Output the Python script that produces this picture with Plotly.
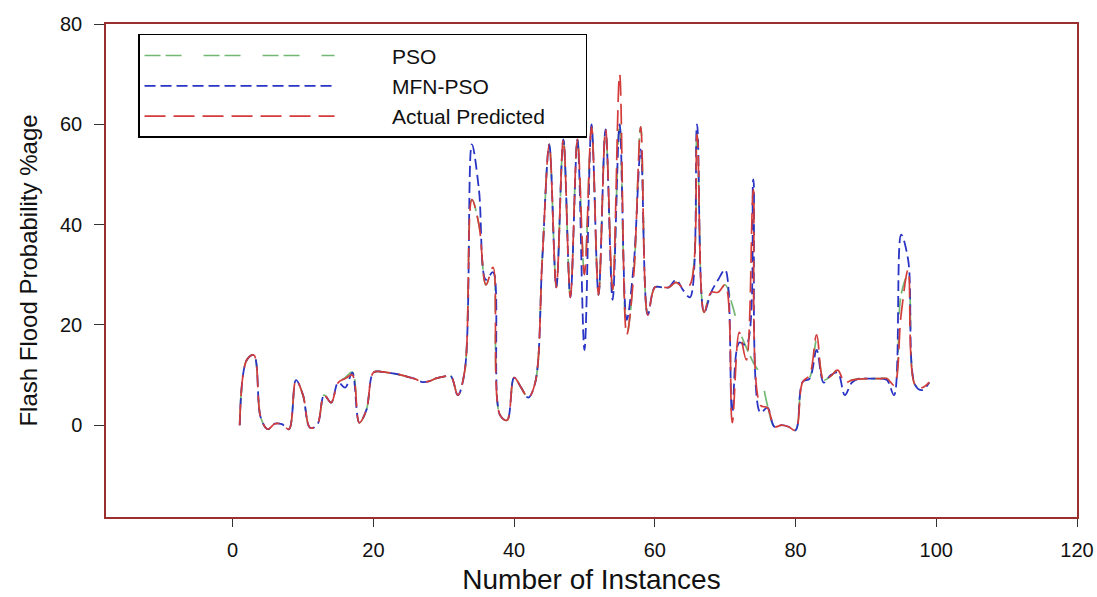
import plotly.graph_objects as go

instances = list(range(1, 100))

actual = [0, 13, 14, 1.5, -0.8, 0.3, 0.2, -0.8, 9, 6,
          -0.5, 0, 6, 4.5, 8.5, 9.3, 10, 0.5, 3, 10.5,
          10.7, 10.5, 10.3, 10, 9.6, 9.2, 8.6, 8.8, 9.4, 9.7,
          9.8, 6, 11, 45, 40, 28, 31.5, 2, 1, 9.5,
          7.5, 5.5, 8.5, 33, 56, 27.5, 57, 25.5, 57, 30,
          59.5, 26, 59, 27, 70, 18, 30, 59.5, 22, 27.5,
          27.5, 27.5, 28.5, 27.5, 28, 58, 22.5, 26.5, 26.5, 28,
          0.5, 18.5, 13, 47, 4, 3.5, -0.3, 0, -0.3, -1,
          8.6, 10, 18, 9, 9.8, 11, 8.5, 9, 9.2, 9.3,
          9.3, 9.3, 9.3, 8, 22, 31, 8, 7.5, 8.6]

mfn_pso = [0, 13, 14, 1.5, -0.8, 0.3, 0.2, -0.8, 9, 6,
           -0.5, 0, 6, 4.5, 8.5, 7.5, 10.5, 0.5, 3, 10.5,
           10.7, 10.5, 10.3, 10, 9.6, 9.2, 8.6, 8.8, 9.4, 9.7,
           9.8, 6, 11, 56, 47, 29, 30.5, 2, 1, 9.5,
           7.5, 5.5, 8.5, 33, 56, 27.5, 57, 25.5, 57, 15,
           60, 26, 59, 25, 60, 21, 32, 55, 22, 27.5,
           27.5, 27.5, 29, 27, 25.5, 60, 22.5, 26.5, 29, 31,
           2.5, 16.5, 16, 49, 2.5, 3.5, -0.3, 0, -0.3, -1,
           8.6, 9.3, 15, 8.5, 10, 10.5, 6, 8.5, 9.3, 9.3,
           9.3, 9.3, 9, 6, 38, 33, 8, 7, 8.5]

pso = [0, 13, 14, 1.5, -0.8, 0.3, 0.2, -0.8, 9, 6,
       -0.5, 0, 6, 4.5, 8.5, 9.5, 10.6, 0.5, 3, 10.5,
       10.7, 10.5, 10.3, 10, 9.6, 9.2, 8.6, 8.8, 9.4, 9.7,
       9.8, 6, 11, 45, 40, 28, 31.5, 2, 1, 9.5,
       7.5, 5.5, 8.5, 33, 56, 27.5, 57, 25.5, 57, 30,
       59.5, 26, 59, 27, 60, 18, 30, 59.5, 22, 27.5,
       27.5, 27.5, 28.5, 27.5, 28, 58, 22.5, 26.5, 26.5, 28,
       24, 19, 15.5, 12.5, 10, 4, -0.3, 0, -0.3, -1,
       8.6, 9.5, 17, 9, 9.8, 11, 8.5, 9, 9.2, 9.3,
       9.3, 9.3, 9.3, 8, 26, 30, 8, 7.5, 8.6]

series_names = ["PSO", "MFN-PSO", "Actual Predicted"]
x_ticks = [0, 20, 40, 60, 80, 100, 120]
y_ticks = [0, 20, 40, 60, 80]

pad = "\u00a0" * 9
tail = "\u00a0" * 6

fig = go.Figure()
fig.add_trace(go.Scatter(x=instances, y=pso, mode="lines", name=pad + series_names[0],
                         line=dict(color="#72b872", width=1.7, shape="spline", smoothing=1.0,
                                   dash="16px,5px,16px,22px")))
fig.add_trace(go.Scatter(x=instances, y=mfn_pso, mode="lines", name=pad + series_names[1],
                         line=dict(color="#2a34c4", width=1.8, shape="spline", smoothing=1.0,
                                   dash="11px,5px")))
fig.add_trace(go.Scatter(x=instances, y=actual, mode="lines", name=pad + series_names[2] + tail,
                         line=dict(color="#d43c3c", width=1.7, shape="spline", smoothing=1.0,
                                   dash="21px,8px")))

border = "#9b2f2f"
fig.update_layout(
    width=1097, height=597,
    margin=dict(l=106, r=20, t=24, b=80),
    paper_bgcolor="white", plot_bgcolor="white",
    font=dict(family="Liberation Sans, Arial, sans-serif", color="#111"),
    showlegend=True,
    legend=dict(x=0.033, y=0.98, xanchor="left", yanchor="top",
                bgcolor="white", bordercolor="black", borderwidth=1.5,
                font=dict(size=21, color="#111"), itemwidth=190,
                tracegroupgap=0),
)
fig.update_xaxes(
    range=[-18, 120], tickvals=x_ticks, showgrid=False, zeroline=False,
    showline=True, linecolor=border, linewidth=1.5, mirror=True, automargin=False,
    ticks="outside", ticklen=8, tickcolor="#333", tickwidth=1.2,
    tickfont=dict(size=20, family="Liberation Sans Narrow, Arial Narrow, Liberation Sans"),
    ticklabelstandoff=6,
    title=dict(text="Number of Instances", standoff=10,
               font=dict(size=28, family="Liberation Sans Narrow, Arial Narrow, Liberation Sans")),
)
fig.update_yaxes(
    range=[-18.3, 80], tickvals=y_ticks, showgrid=False, zeroline=False,
    showline=True, linecolor=border, linewidth=1.5, mirror=True, automargin=False,
    ticks="outside", ticklen=10, tickcolor="#333", tickwidth=1.2,
    tickfont=dict(size=20), ticklabelstandoff=8,
    title=dict(text="Flash Flood Probability %age", standoff=16, font=dict(size=24)),
)

fig.write_html("out.html", config={"displayModeBar": False},
               post_script="document.body.style.margin='0';document.body.style.overflow='hidden';")
